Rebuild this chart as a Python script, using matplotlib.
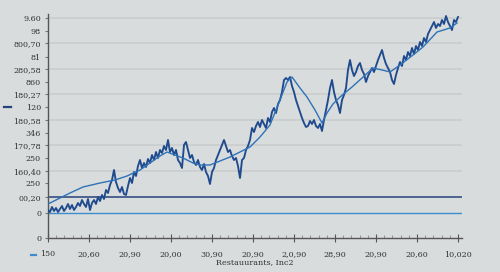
import matplotlib
matplotlib.use("Agg")
import numpy as np
import matplotlib.pyplot as plt
from matplotlib.lines import Line2D

# noisy price series (x position along axis, value)
price_x = list(range(0, 412, 2))
price_y = [28, 26, 31, 27, 30, 26, 29, 32, 27, 30, 34, 29, 33, 28, 31, 35, 32, 38, 34, 31,
           39, 28, 35, 38, 34, 41, 37, 43, 39, 48, 45, 53, 58, 68, 56, 50, 46, 51, 44, 43,
           52, 60, 55, 66, 62, 72, 78, 70, 75, 71, 79, 75, 83, 78, 86, 80, 88, 85, 92, 88,
           98, 86, 90, 83, 88, 78, 75, 70, 93, 96, 88, 80, 83, 76, 73, 78, 71, 68, 74, 66,
           62, 54, 66, 70, 78, 83, 88, 93, 98, 92, 86, 88, 82, 78, 80, 72, 60, 78, 80, 88,
           92, 98, 110, 106, 112, 116, 111, 118, 114, 110, 120, 116, 126, 130, 125, 134, 138, 146, 158, 160,
           158, 161, 152, 146, 138, 132, 126, 120, 115, 111, 112, 117, 114, 118, 112, 110, 114, 107, 118, 128,
           138, 150, 158, 146, 138, 133, 125, 138, 143, 150, 168, 178, 168, 162, 166, 172, 175, 168, 164, 156,
           162, 166, 170, 166, 172, 178, 183, 188, 180, 174, 170, 166, 158, 154, 163, 170, 176, 172, 182, 178,
           186, 182, 190, 184, 192, 188, 196, 192, 200, 196, 204, 208, 212, 216, 210, 214, 212, 218, 214, 222,
           216, 212, 208, 218, 216, 221]

# smoothed trend
trend_x = [0, 12, 22, 35, 52, 67, 79, 92, 102, 112, 119, 127, 135, 145, 152, 162, 172, 182, 192, 202,
           212, 222, 232, 239, 244, 252, 259, 267, 274, 279, 285, 292, 304, 314, 325, 334, 342, 352, 365, 375,
           389, 402, 409]
trend_y = [34, 40, 45, 51, 55, 58, 62, 68, 75, 82, 86, 83, 80, 75, 73, 73, 77, 81, 86, 91,
           101, 113, 138, 156, 161, 150, 141, 128, 115, 125, 134, 141, 151, 160, 170, 168, 166, 173, 183, 191,
           206, 210, 215]

upper_level = 41
lower_level = 25
grid_levels = [220, 195, 169, 144, 118, 93, 67]

ytick_pos = [220, 207, 195, 181, 169, 156, 144, 131, 118, 105, 93, 80, 67, 55, 41, 25, 0]
ytick_labels = ["9.60", "98", "800,70", "81", "280,58", "860", "180,27", "120", "180,58", "346",
                "170,78", "250", "160,40", "250", "00,20", "0", "0"]
xtick_pos = [0, 41, 82, 123, 164, 205, 246, 287, 328, 369, 410]
xtick_labels = ["150", "20,60", "20,90", "20,00", "30,90", "20,90", "2,0,90", "28,90",
                "20,90", "20,60", "10,020"]

bg = "#d9dcdc"
fig = plt.figure(figsize=(5, 2.72), dpi=100, facecolor=bg)
ax = fig.add_axes([48 / 500, 1 - 238 / 272, 414 / 500, 224 / 272])
ax.set_facecolor(bg)

for g in grid_levels:
    ax.axhline(g, color="#cbcece", lw=1.3, zorder=0)
ax.axhline(upper_level, color="#25427c", lw=1.1, zorder=1)
ax.axhline(lower_level, color="#3f8bcf", lw=1.0, zorder=1)

ax.plot(price_x, price_y, color="#1f4a8e", lw=1.35, zorder=3)
ax.plot(trend_x, trend_y, color="#2e72b8", lw=1.0, zorder=4)

ax.set_xlim(0, 414)
ax.set_ylim(0, 224)

for s in ["top", "right"]:
    ax.spines[s].set_visible(False)
for s in ["left", "bottom"]:
    ax.spines[s].set_color("#555555")
    ax.spines[s].set_linewidth(1.0)

font = "DejaVu Serif"
ax.set_yticks(ytick_pos)
ax.set_yticklabels(ytick_labels, fontsize=5.8, family=font, color="#333333")
ax.tick_params(axis="y", length=2, color="#777777", pad=3)
ax.set_xticks(xtick_pos)
ax.set_xticklabels(xtick_labels, fontsize=5.8, family=font, color="#333333")
ax.set_xticks(np.arange(0, 411, 8.2), minor=True)
ax.tick_params(axis="x", which="major", direction="inout", length=6, color="#555555", pad=6)
ax.tick_params(axis="x", which="minor", direction="in", length=2, color="#888888")

fig.text(0.51, 0.035, "Restauurants, Inc2", fontsize=5.8, family=font, color="#333333",
         ha="center", va="center")

# small legend dashes
fig.add_artist(Line2D([4 / 500, 11 / 500], [1 - 107 / 272] * 2, color="#25427c", lw=1.6))
fig.add_artist(Line2D([31 / 500, 36 / 500], [1 - 255 / 272] * 2, color="#3f8bcf", lw=1.6))

fig.savefig("out.png", dpi=100, facecolor=bg)
